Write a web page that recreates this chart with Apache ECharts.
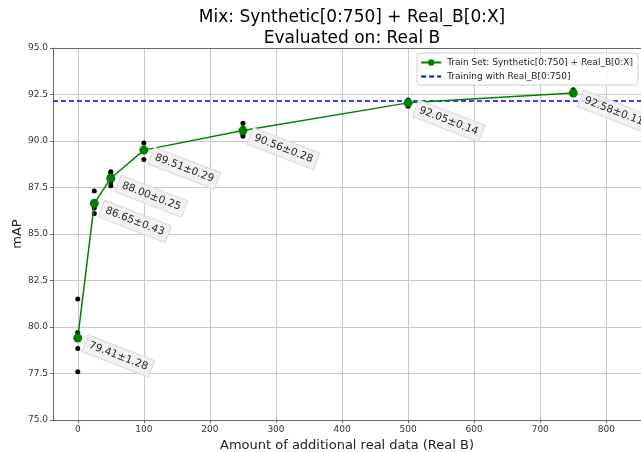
<!DOCTYPE html>
<html><head><meta charset="utf-8">
<script src="https://cdn.jsdelivr.net/npm/echarts@6/dist/echarts.min.js"></script>
<style>html,body{margin:0;padding:0;background:#fff}#c{width:641px;height:452px}</style>
</head><body><div id="c"></div>
<script>
const xs = [0, 25, 50, 100, 250, 500, 750];
const means = [79.41, 86.65, 88.00, 89.51, 90.56, 92.05, 92.58];
const stds = [1.28, 0.43, 0.25, 0.29, 0.28, 0.14, 0.11];
const runs = [
  [81.5, 79.7, 78.85, 77.6],
  [87.31, 86.75, 86.4, 86.1],
  [88.35, 88.25, 87.8, 87.6],
  [89.89, 89.6, 89.54, 89.01],
  [90.95, 90.7, 90.35, 90.25],
  [92.2, 92.15, 91.98, 91.87],
  [92.75, 92.6, 92.5, 92.52]
];
const baseline = 92.15;
const xMin = -37.5, xMax = 852.5;
const yMin = 75, yMax = 95;
const seriesName = 'Train Set: Synthetic[0:750] + Real_B[0:X]';
const baseName = 'Training with Real_B[0:750]';

const FONT = 'DejaVu Sans';
const runPts = [];
xs.forEach((x, i) => runs[i].forEach(v => runPts.push([x, v])));
const meanPts = xs.map((x, i) => [x, means[i]]);

const chart = echarts.init(document.getElementById('c'), null, {renderer: 'canvas'});
chart.setOption({
  animation: false,
  textStyle: {fontFamily: FONT},
  title: {
    text: 'Mix: Synthetic[0:750] + Real_B[0:X]\nEvaluated on: Real B',
    left: 347, top: 2, textAlign: 'center',
    textStyle: {fontFamily: FONT, fontSize: 17, fontWeight: 'normal', color: '#000', lineHeight: 21}
  },
  legend: {
    orient: 'vertical', right: 3, top: 53,
    backgroundColor: 'rgba(255,255,255,0.8)',
    borderColor: '#d0d0d0', borderWidth: 1, borderRadius: 3,
    padding: [5, 5, 4, 3], itemGap: 5, itemWidth: 20, itemHeight: 8,
    textStyle: {fontFamily: FONT, fontSize: 9, color: '#222', padding: [0, 0, 0, 1]},
    data: [seriesName, {name: baseName, itemStyle: {opacity: 0}}]
  },
  grid: {left: 53, right: 0, top: 48, bottom: 32, containLabel: false, outerBoundsMode: 'none'},
  xAxis: [{
    type: 'value', min: xMin, max: xMax, splitNumber: 9,
    name: 'Amount of additional real data (Real B)', nameLocation: 'middle', nameGap: 19,
    nameTextStyle: {fontFamily: FONT, fontSize: 13, color: '#222'},
    axisLine: {show: true, onZero: false, lineStyle: {color: '#666', width: 1}},
    axisTick: {show: true, length: 3, lineStyle: {color: '#666'}},
    axisLabel: {fontFamily: FONT, fontSize: 9, color: '#333', margin: 5, showMinLabel: false, showMaxLabel: false},
    splitLine: {show: true, lineStyle: {color: '#c8c8c8', width: 1}}
  }, {
    type: 'value', min: xMin, max: xMax, position: 'top',
    axisLine: {show: true, lineStyle: {color: '#666', width: 1}},
    axisTick: {show: false}, axisLabel: {show: false}, splitLine: {show: false}
  }],
  yAxis: {
    type: 'value', min: yMin, max: yMax, interval: 2.5,
    name: 'mAP', nameLocation: 'middle', nameGap: 29, nameMoveOverlap: false,
    nameTextStyle: {fontFamily: FONT, fontSize: 13, color: '#222'},
    axisLine: {show: true, onZero: false, lineStyle: {color: '#666', width: 1}},
    axisTick: {show: true, length: 3, lineStyle: {color: '#666'}},
    axisLabel: {fontFamily: FONT, fontSize: 9, color: '#333', margin: 5, formatter: v => v.toFixed(1)},
    splitLine: {show: true, lineStyle: {color: '#c8c8c8', width: 1}}
  },
  series: [
    {
      name: 'runs', type: 'scatter', data: runPts, symbolSize: 5,
      itemStyle: {color: '#000', opacity: 1}, z: 3
    },
    {
      name: seriesName, type: 'line', data: meanPts, symbol: 'circle', symbolSize: 9,
      lineStyle: {color: '#008000', width: 1.5}, itemStyle: {color: '#008000'}, z: 4,
      label: {
        show: true, position: 'right', distance: 0, rotate: -21, offset: [5, 4],
        align: 'left', verticalAlign: 'middle',
        formatter: p => means[p.dataIndex].toFixed(2) + '±' + stds[p.dataIndex].toFixed(2),
        fontFamily: FONT, fontSize: 10.5, color: '#222',
        backgroundColor: 'rgba(240,240,240,0.85)', borderColor: '#dcdcdc', borderWidth: 1,
        padding: [3, 4]
      }
    },
    {
      name: baseName, type: 'line', data: [[xMin, baseline], [xMax, baseline]],
      showSymbol: false, symbol: 'none', lineStyle: {color: '#0000ff', width: 1.5, type: [5, 3]},
      itemStyle: {color: '#0000ff'}, z: 2
    }
  ]
});
</script></body></html>
